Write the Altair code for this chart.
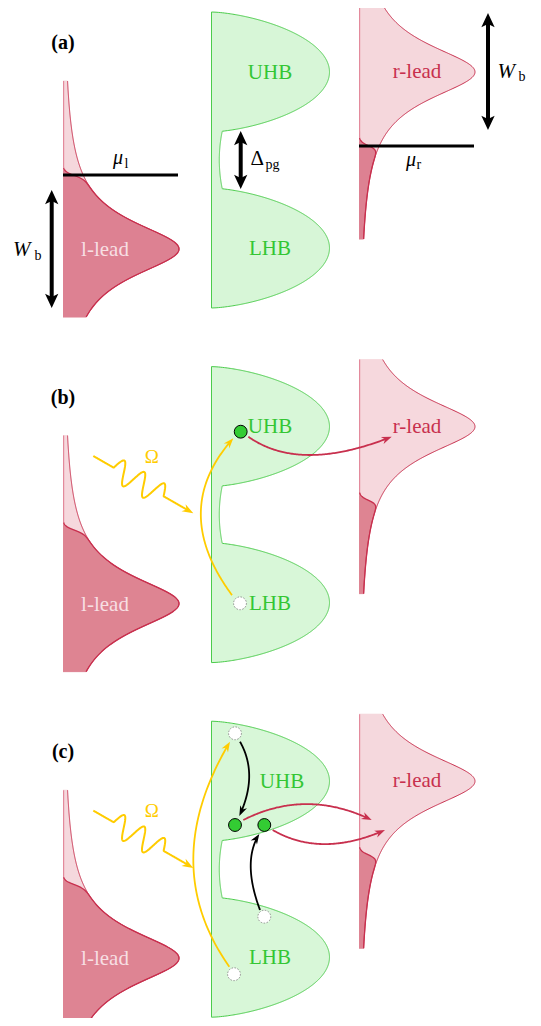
import numpy as np
import pandas as pd
import altair as alt

# ---------------- layout / data (pixel space of the figure) ----------------
PANEL_OFF = 354.6
panel_names = ["(a)", "(b)", "(c)"]
panel_label_xy = (63.0, 43.0)

# leads (Lorentzian band DOS, filled by Fermi function)
lead_labels = ["l-lead", "r-lead"]
lead_x0 = [63.0, 359.0]
lead_peak_y = [249.0, 72.0]
lead_y_top = [81.0, 5.0]
lead_y_bot = [317.0, 239.0]
lead_mu_y = [175.0, 146.0]
lead_peak_w = 116.0
lead_gamma = 34.0
lead_kT = 2.2
lead_label_x = [105.0, 417.0]
lead_label_y = [250.0, 72.0]

# Hubbard bands
hb_x0 = 211.5
hb_y_top, hb_y_bot = 12.0, 308.0
hb_peak_y = [72.0, 248.0]
hb_half = 60.0
hb_peak_w = 118.0
hb_exp = 0.65
gap_w_mid, gap_w_edge, gap_mid_y = 7.8, 11.0, 160.0
hb_labels = ["UHB", "LHB"]
hb_label_x = [[270.0, 270.0], [270.0, 270.0], [282.0, 270.0]]
hb_label_y = [72.5, 249.0]

# panel (a) extras
mu_x1 = [63.0, 359.0]
mu_x2 = [178.0, 474.0]
dbl_x = [51.7, 240.7, 488.0]
dbl_y1 = [190.0, 131.0, 13.0]
dbl_y2 = [308.0, 189.0, 130.0]

# curved thin arrows: panel, colour, start, control, tip
C_GOLD = "#ffcc00"
C_CRIM = "#c8304e"
C_BLACK = "#000000"
curve_panel = [1, 1, 2, 2, 2, 2, 2]
curve_col = [C_GOLD, C_CRIM, C_GOLD, C_BLACK, C_BLACK, C_CRIM, C_CRIM]
curve_p0 = [(232.0, 240.5), (248.3, 82.1), (229.3, 257.5), (240.0, 32.5), (260.0, 200.8), (243.3, 110.8), (272.7, 120.8)]
curve_ctrl = [(169.0, 155.4), (300.0, 118.7), (157.0, 155.0), (258.7, 65.4), (241.8, 152.2), (306.0, 79.0), (321.0, 149.0)]
curve_tip = [(233.3, 83.7), (391.7, 82.1), (230.0, 32.5), (239.3, 106.8), (259.3, 124.8), (371.7, 110.8), (385.0, 120.8)]

# photon (wavy) arrow in panels b, c
wave_panels = [1, 2]
wave_start = (93.3, 101.4)
wave_tip = (193.3, 158.7)
wave_lead_in = 23.5
wave_lambda = 23.0
wave_amp = 11.5
wave_periods = 2.5
omega_xy = (151.7, 102.0)

# electrons / holes
dot_panel = [1, 1, 2, 2, 2, 2, 2]
dot_x = [240.7, 240.0, 235.0, 264.3, 235.0, 264.3, 234.0]
dot_y = [77.1, 248.7, 115.8, 115.8, 24.1, 207.5, 265.0]
dot_filled = [True, False, True, True, False, False, False]

# colours
C_DARK = "#dc7d8e"
C_LIGHT = "#f4d5da"
C_EDGE = "#e38a9c"
C_GFILL = "#d5f5d5"
C_GLINE = "#4ccc4c"
C_GTEXT = "#33c633"
C_DOT = "#33cc33"
FONT = "Liberation Serif"

# ---------------- build tables ----------------
def lead_w(y, c):
    return lead_peak_w / (1.0 + ((y - c) / lead_gamma) ** 2)

def fermi(y, mu):
    return 1.0 / (1.0 + np.exp(-(y - mu) / lead_kT))

def hb_w(y):
    w = np.zeros_like(y)
    for c in hb_peak_y:
        d = (y - c) / hb_half
        w = np.maximum(w, hb_peak_w * np.clip(1 - d ** 2, 0, None) ** hb_exp)
    gap = gap_w_mid + (gap_w_edge - gap_w_mid) * ((y - gap_mid_y) / 30.0) ** 2
    inside = (y > hb_peak_y[0]) & (y < hb_peak_y[1])
    return np.where(inside, np.maximum(w, gap), w)

fill_parts, line_parts = [], []
thin_heads, thick_heads = [], []
gid = [0]
FSTEP = 0.5

def add_fill(ys, x1, x2, col, order):
    # horizontal slices (rules) filling the band between x1 and x2
    fill_parts.append(pd.DataFrame(dict(y=ys, x=x1, x2=x2, col=col, o=order)))

def add_line(xs, ys, col, w):
    gid[0] += 1
    line_parts.append(pd.DataFrame(dict(g=gid[0], i=np.arange(len(xs)), x=np.asarray(xs, float),
                                        y=np.asarray(ys, float), col=col, w=w)))

def head_row(tip, d, col, sz):
    ang = (np.degrees(np.arctan2(d[0], -d[1])) + 360.0) % 360.0
    return dict(x=tip[0], y=tip[1], ang=ang, col=col, sz=sz)

THIN_S, THICK_S, WAVE_S = 6.8, 9.5, 7.5

for k in range(3):
    off = k * PANEL_OFF
    # Hubbard bands
    ys = np.arange(hb_y_top, hb_y_bot + 1e-9, FSTEP)
    w = hb_w(ys)
    add_fill(ys + off, np.full(len(ys), hb_x0), hb_x0 + w, C_GFILL, 0)
    yf = np.arange(hb_y_top, hb_y_bot + 1e-9, 0.2)
    add_line(hb_x0 + hb_w(yf), yf + off, C_GLINE, 1.0)
    add_line([hb_x0, hb_x0], [hb_y_top + off, hb_y_bot + off], C_GLINE, 1.0)
    # leads
    for j in range(2):
        ys = np.arange(lead_y_top[j], lead_y_bot[j] + 1e-9, FSTEP)
        w = lead_w(ys, lead_peak_y[j])
        f = fermi(ys, lead_mu_y[j])
        x0 = lead_x0[j]
        add_fill(ys + off, np.full(len(ys), x0), x0 + w, C_LIGHT, 1)
        m = w * f > 0.3
        add_fill(ys[m] + off, np.full(m.sum(), x0), x0 + (w * f)[m], C_DARK, 2)
        m = ys < lead_mu_y[j] - 4
        add_line(np.full(m.sum(), x0 + 0.6), ys[m] + off, C_EDGE, 1.2)
        add_line(x0 + w, ys + off, C_CRIM, 1.0)
        m2 = w * f > 0.6
        add_line(x0 + (w * f)[m2], ys[m2] + off, C_CRIM, 1.3)

# panel (a): chemical potentials, double arrows
for j in range(2):
    add_line([mu_x1[j], mu_x2[j]], [lead_mu_y[j], lead_mu_y[j]], C_BLACK, 3.0)
for j in range(3):
    L = THICK_S * 1.0
    add_line([dbl_x[j], dbl_x[j]], [dbl_y1[j] + L, dbl_y2[j] - L], C_BLACK, 4.0)
    thick_heads.append(head_row((dbl_x[j], dbl_y1[j]), (0, -1), C_BLACK, (2 * THICK_S) ** 2))
    thick_heads.append(head_row((dbl_x[j], dbl_y2[j]), (0, 1), C_BLACK, (2 * THICK_S) ** 2))

# curved thin arrows
for p, col, p0, c, p2 in zip(curve_panel, curve_col, curve_p0, curve_ctrl, curve_tip):
    off = np.array([0.0, p * PANEL_OFF])
    P0, C, P2 = np.array(p0) + off, np.array(c) + off, np.array(p2) + off
    t = np.linspace(0, 1, 120)[:, None]
    pts = (1 - t) ** 2 * P0 + 2 * (1 - t) * t * C + t ** 2 * P2
    d = (P2 - C) / np.linalg.norm(P2 - C)
    back = 0.8 * THIN_S
    keep = np.linalg.norm(pts - P2, axis=1) > back
    pts = np.vstack([pts[keep], P2 - back * d])
    add_line(pts[:, 0], pts[:, 1], col, 1.8)
    thin_heads.append(head_row(P2, d, col, (2 * THIN_S) ** 2))

# wavy photon arrows
for p in wave_panels:
    off = np.array([0.0, p * PANEL_OFF])
    P0 = np.array(wave_start) + off
    P2 = np.array(wave_tip) + off
    L = np.linalg.norm(P2 - P0)
    u = (P2 - P0) / L
    n = np.array([u[1], -u[0]])
    t = np.arange(0, L - 0.8 * WAVE_S, 0.4)
    t1 = wave_lead_in + wave_periods * wave_lambda
    a = np.where((t >= wave_lead_in) & (t <= t1),
                 wave_amp * np.sin(2 * np.pi * (t - wave_lead_in) / wave_lambda), 0.0)
    pts = P0 + t[:, None] * u + a[:, None] * n
    add_line(pts[:, 0], pts[:, 1], C_GOLD, 2.0)
    thin_heads.append(head_row(P2, u, C_GOLD, (2 * WAVE_S) ** 2))

fill_df = pd.concat(fill_parts, ignore_index=True)
line_df = pd.concat(line_parts, ignore_index=True)
thin_df = pd.DataFrame(thin_heads)
thick_df = pd.DataFrame(thick_heads)

dots_df = pd.DataFrame(dict(x=dot_x, y=[y + p * PANEL_OFF for y, p in zip(dot_y, dot_panel)],
                            filled=dot_filled))

# text tables
lab_rows = []
for k in range(3):
    off = k * PANEL_OFF
    for j in range(2):
        lab_rows.append(dict(t=hb_labels[j], x=hb_label_x[k][j], y=hb_label_y[j] + off, col=C_GTEXT, fs=21))
    lab_rows.append(dict(t=lead_labels[0], x=lead_label_x[0], y=lead_label_y[0] + off, col="#f7dfe3", fs=21))
    lab_rows.append(dict(t=lead_labels[1], x=lead_label_x[1], y=lead_label_y[1] + off, col=C_CRIM, fs=21))
for p in wave_panels:
    lab_rows.append(dict(t="Ω", x=omega_xy[0], y=omega_xy[1] + p * PANEL_OFF, col=C_GOLD, fs=19))
lab_df = pd.DataFrame(lab_rows)

bold_df = pd.DataFrame([dict(t=panel_names[k], x=panel_label_xy[0], y=panel_label_xy[1] + k * PANEL_OFF,
                             col=C_BLACK, fs=20) for k in range(3)])

ital_df = pd.DataFrame([
    dict(t="μ", x=113.0, y=164.0, fs=20),
    dict(t="μ", x=406.0, y=165.5, fs=20),
    dict(t="W", x=13.0, y=256.0, fs=21),
    dict(t="W", x=497.5, y=77.5, fs=21),
])
sub_df = pd.DataFrame([
    dict(t="l", x=124.5, y=167.5, fs=14),
    dict(t="r", x=416.5, y=169.0, fs=14),
    dict(t="b", x=34.5, y=259.5, fs=14),
    dict(t="b", x=518.5, y=81.0, fs=14),
    dict(t="Δ", x=250.5, y=165.0, fs=21),
    dict(t="pg", x=265.5, y=168.5, fs=14),
])

# ---------------- chart ----------------
XS = alt.Scale(domain=[8, 533], nice=False, zero=False)
YS = alt.Scale(domain=[8, 1018], nice=False, zero=False, reverse=True)

def X(f="x"):
    return alt.X(f"{f}:Q", scale=XS, axis=None)

def Y(f="y"):
    return alt.Y(f"{f}:Q", scale=YS, axis=None)

fill_layer = alt.Chart(fill_df).mark_rule(strokeWidth=0.85, strokeCap="butt").encode(
    x=X(), x2=alt.X2("x2:Q"), y=Y(), color=alt.Color("col:N", scale=None),
    order=alt.Order("o:Q"))

line_layer = alt.Chart(line_df).mark_line(strokeCap="butt", strokeJoin="round").encode(
    x=X(), y=Y(), color=alt.Color("col:N", scale=None), strokeWidth=alt.StrokeWidth("w:Q", scale=None),
    detail="g:N", order=alt.Order("i:Q"))

STEALTH = "M0,0 L0.55,1.5 L0,1.05 L-0.55,1.5 Z"
THICK = "M0,0 L0.7,1.5 L0,1.15 L-0.7,1.5 Z"

thin_layer = alt.Chart(thin_df).mark_point(shape=STEALTH, filled=True, opacity=1, strokeWidth=0).encode(
    x=X(), y=Y(), angle=alt.Angle("ang:Q", scale=None), size=alt.Size("sz:Q", scale=None),
    color=alt.Color("col:N", scale=None))

thick_layer = alt.Chart(thick_df).mark_point(shape=THICK, filled=True, opacity=1, strokeWidth=0).encode(
    x=X(), y=Y(), angle=alt.Angle("ang:Q", scale=None), size=alt.Size("sz:Q", scale=None),
    color=alt.Color("col:N", scale=None))

full_dots = alt.Chart(dots_df[dots_df.filled]).mark_point(
    shape="circle", filled=True, size=165, fill=C_DOT, stroke="black", strokeWidth=1, opacity=1).encode(
    x=X(), y=Y())
empty_dots = alt.Chart(dots_df[~dots_df.filled]).mark_point(
    shape="circle", filled=True, size=165, fill="white", stroke="#8f8f8f", strokeWidth=1,
    strokeDash=[1.5, 1.5], opacity=1).encode(x=X(), y=Y())

lab_layer = alt.Chart(lab_df).mark_text(font=FONT, align="center", baseline="middle").encode(
    x=X(), y=Y(), text="t:N", color=alt.Color("col:N", scale=None), size=alt.Size("fs:Q", scale=None))
bold_layer = alt.Chart(bold_df).mark_text(font=FONT, fontWeight="bold", align="center",
                                          baseline="middle").encode(
    x=X(), y=Y(), text="t:N", color=alt.Color("col:N", scale=None), size=alt.Size("fs:Q", scale=None))
ital_layer = alt.Chart(ital_df).mark_text(font=FONT, fontStyle="italic", align="left",
                                          baseline="alphabetic", color="black").encode(
    x=X(), y=Y(), text="t:N", size=alt.Size("fs:Q", scale=None))
sub_layer = alt.Chart(sub_df).mark_text(font=FONT, align="left", baseline="alphabetic",
                                        color="black").encode(
    x=X(), y=Y(), text="t:N", size=alt.Size("fs:Q", scale=None))

chart = alt.layer(
    fill_layer, line_layer, thin_layer, thick_layer,
    full_dots, empty_dots, lab_layer, bold_layer, ital_layer, sub_layer
).properties(width=525, height=1010, padding=0, autosize="none").configure_view(strokeWidth=0)

chart.save("out.html", embed_options={"renderer": "svg", "actions": False})
